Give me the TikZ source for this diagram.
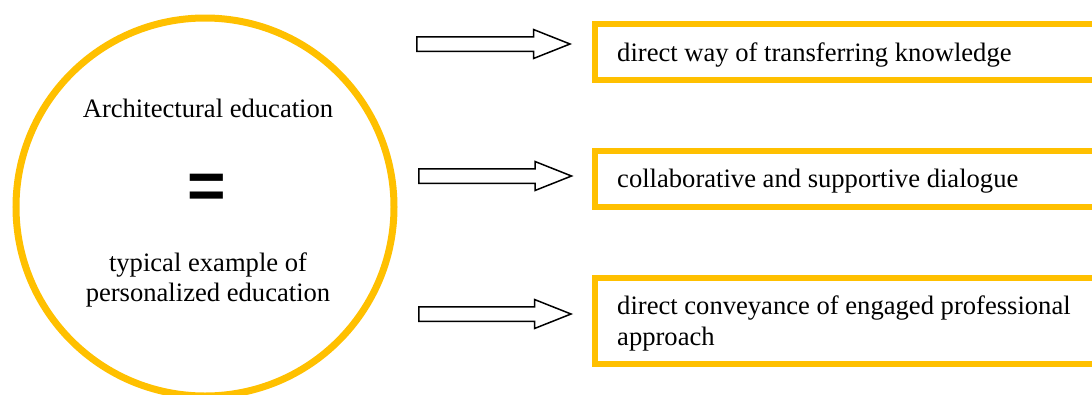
\documentclass[tikz,border=0pt]{standalone}
\usepackage{fontspec}
\setmainfont{Liberation Serif}
\newfontfamily\eqfont{Liberation Sans}
\definecolor{gold}{HTML}{FFC000}
\tikzset{
  txt/.style={inner sep=0pt, font=\fontsize{26.6}{31}\selectfont},
  goldbox/.style={draw=gold, line width=6pt, inner sep=0pt, minimum width=505pt},
  blockarrow/.style={draw=black, fill=white, line width=1.5pt, line join=miter}
}
\newcommand\blockarr[2]{% #1 tail coordinate, #2 shaft length
  \draw[blockarrow] (#1) ++(0,-7.25) -- ++(#2,0) -- ++(0,-7.25) -- ++(36.5,14.5)
    -- ++(-36.5,14.5) -- ++(0,-7.25) -- ++(-#2,0) -- cycle;}
\begin{document}
\begin{tikzpicture}[x=1pt, y=-1pt]
\useasboundingbox (0,0) rectangle (1092,394);
% circle
\node[circle, draw=gold, line width=7pt, minimum size=378pt, inner sep=0pt] (circ) at (205,207) {};
\node[txt, anchor=base] (t1) at (208,117) {Architectural education};
\node[inner sep=0pt, font=\eqfont\bfseries\fontsize{66}{66}\selectfont] (eq) at (207,191.5) {=};
\node[txt, anchor=base, align=center, font=\fontsize{26.6}{30}\selectfont] (t2) at (208,301) {typical example of\\personalized education};
% boxes
\node[goldbox, minimum height=56pt] (b1) at (847.5,51.5) {};
\node[goldbox, minimum height=56pt] (b2) at (847.5,178.5) {};
\node[goldbox, minimum height=86pt] (b3) at (847.5,321) {};
\node[txt, anchor=base west] (l1) at (617,61) {direct way of transferring knowledge};
\node[txt, anchor=base west] (l2) at (617,187) {collaborative and supportive dialogue};
\node[txt, anchor=base west, align=left] (l3) at (617,345) {direct conveyance of engaged professional\\approach};
% block arrows
\coordinate (a1) at (416.75,44);
\coordinate (a2) at (418.75,176);
\coordinate (a3) at (418.75,314);
\blockarr{a1}{116.75}
\blockarr{a2}{116.25}
\blockarr{a3}{115.75}
\end{tikzpicture}
\end{document}
